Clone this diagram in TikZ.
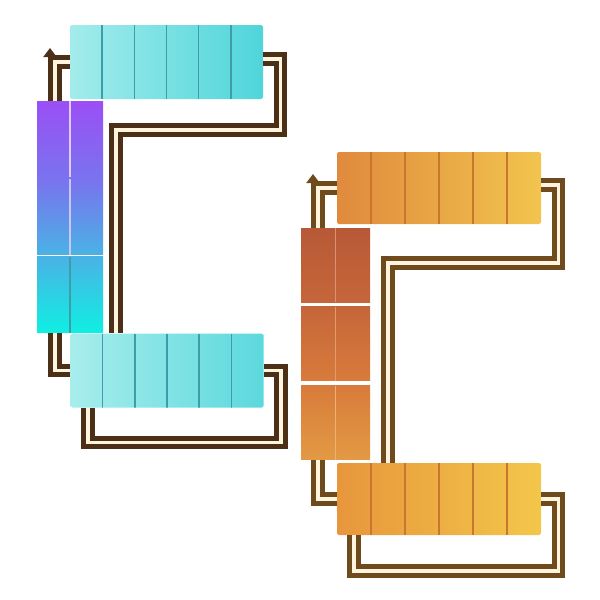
\documentclass[tikz,border=0pt]{standalone}
\usepackage{tikz}
\usetikzlibrary{calc}
\usetikzlibrary{positioning}
\usetikzlibrary{arrows.meta}

\definecolor{cream}{HTML}{FFF4DE}
\definecolor{pipebrown}{HTML}{4B2F17}
\definecolor{pipetan}{HTML}{6E4A1D}
\definecolor{aqualight}{HTML}{A3ECEB}
\definecolor{aquadeep}{HTML}{4FD5DB}
\definecolor{aqualine}{HTML}{3E9DA6}
\definecolor{colpurple}{HTML}{9B4FF5}
\definecolor{colviolet}{HTML}{7A72EE}
\definecolor{colblue}{HTML}{4AB2E5}
\definecolor{colcyan}{HTML}{0FEFE3}
\definecolor{amberlight}{HTML}{E08A3D}
\definecolor{amberdeep}{HTML}{F2C44E}
\definecolor{amberlow}{HTML}{E8963C}
\definecolor{amberline}{HTML}{C9772F}
\definecolor{rusttop}{HTML}{B75937}
\definecolor{rustmid}{HTML}{C5663A}
\definecolor{rustlow}{HTML}{D87B3B}
\definecolor{rustend}{HTML}{E39A44}

\begin{document}
\begin{tikzpicture}[x=0.5pt,y=-0.5pt,
        bar/.style={minimum width=96.5pt,minimum height=37pt,inner sep=0pt,rounded corners=0.8pt,
            path picture={\foreach \i in {1,...,5}
                \draw[line width=0.7pt,#1] ($(path picture bounding box.north west)!\i/6!(path picture bounding box.north east)$)
                    -- ($(path picture bounding box.south west)!\i/6!(path picture bounding box.south east)$);}},
        cell/.style={minimum width=33pt,minimum height=38pt,inner sep=0pt,
            path picture={\draw[line width=0.6pt,#1] (path picture bounding box.north) -- (path picture bounding box.south);}},
        pipe/.style={draw=#1,line width=2.4pt,double=cream,double distance=1.9pt,line join=miter},
        tip/.style={draw=#1,line width=2.4pt,-{Triangle[width=6.5pt,length=4.5pt]}}]
    \useasboundingbox (0,0) rectangle (600,600);

    % cool set
    \node[bar=aqualine,left color=aqualight,right color=aquadeep] (ctop) at (166.5,62) {};
    \node[bar=aqualine,left color=aqualight!95!white,right color=aquadeep!85!aqualight] (cbot) at (167,370.5) {};
    \node[cell={white!70!colpurple},top color=colpurple,bottom color=colviolet] (ca) at (70,139) {};
    \node[cell={white!60!colviolet},top color=colviolet,bottom color=colblue,below=0.5pt of ca] (cb) {};
    \node[cell={aqualine},top color=colblue,bottom color=colcyan,below=0.5pt of cb] (cc) {};

    \draw[pipe=pipebrown] ($(ca.north)+(-15,0)$) |- (ctop.west);
    \draw[tip=pipebrown] (50,61) -- (50,48);
    \draw[pipe=pipebrown] ($(ctop.east)+(0,-3)$) -| ++(17,71) -| ($(cbot.north)+(-51,0)$);
    \draw[pipe=pipebrown] ($(cc.south)+(-15,0)$) |- (cbot.west);
    \draw[pipe=pipebrown] (cbot.east) -| ++(17,72) -| ($(cbot.south)+(-79,0)$);

    % warm set
    \node[bar=amberline,minimum width=102pt,minimum height=36pt,left color=amberlight,right color=amberdeep] (otop) at (439,188) {};
    \node[bar=amberline,minimum width=102pt,minimum height=36pt,left color=amberlow,right color=amberdeep!95!yellow] (obot) at (439,499) {};
    \node[cell={rustmid!70!white},minimum width=34.5pt,minimum height=37pt,top color=rusttop,bottom color=rustmid] (oa) at (335.5,265) {};
    \node[cell={rustlow!75!white},minimum width=34.5pt,minimum height=37pt,top color=rustmid,bottom color=rustlow,below=2pt of oa] (ob) {};
    \node[cell={rustend!75!white},minimum width=34.5pt,minimum height=37pt,top color=rustlow,bottom color=rustend,below=2pt of ob] (oc) {};

    \draw[pipe=pipetan] ($(oa.north)+(-17.5,0)$) |- (otop.west);
    \draw[tip=pipetan] (313,186) -- (313,174);
    \draw[pipe=pipetan] ($(otop.east)+(0,-3)$) -| ++(17,78) -| ($(obot.north)+(-51,0)$);
    \draw[pipe=pipetan] ($(oc.south)+(-17.5,0)$) |- (obot.west);
    \draw[pipe=pipetan] (obot.east) -| ++(17,72) -| ($(obot.south)+(-85,0)$);
\end{tikzpicture}
\end{document}
